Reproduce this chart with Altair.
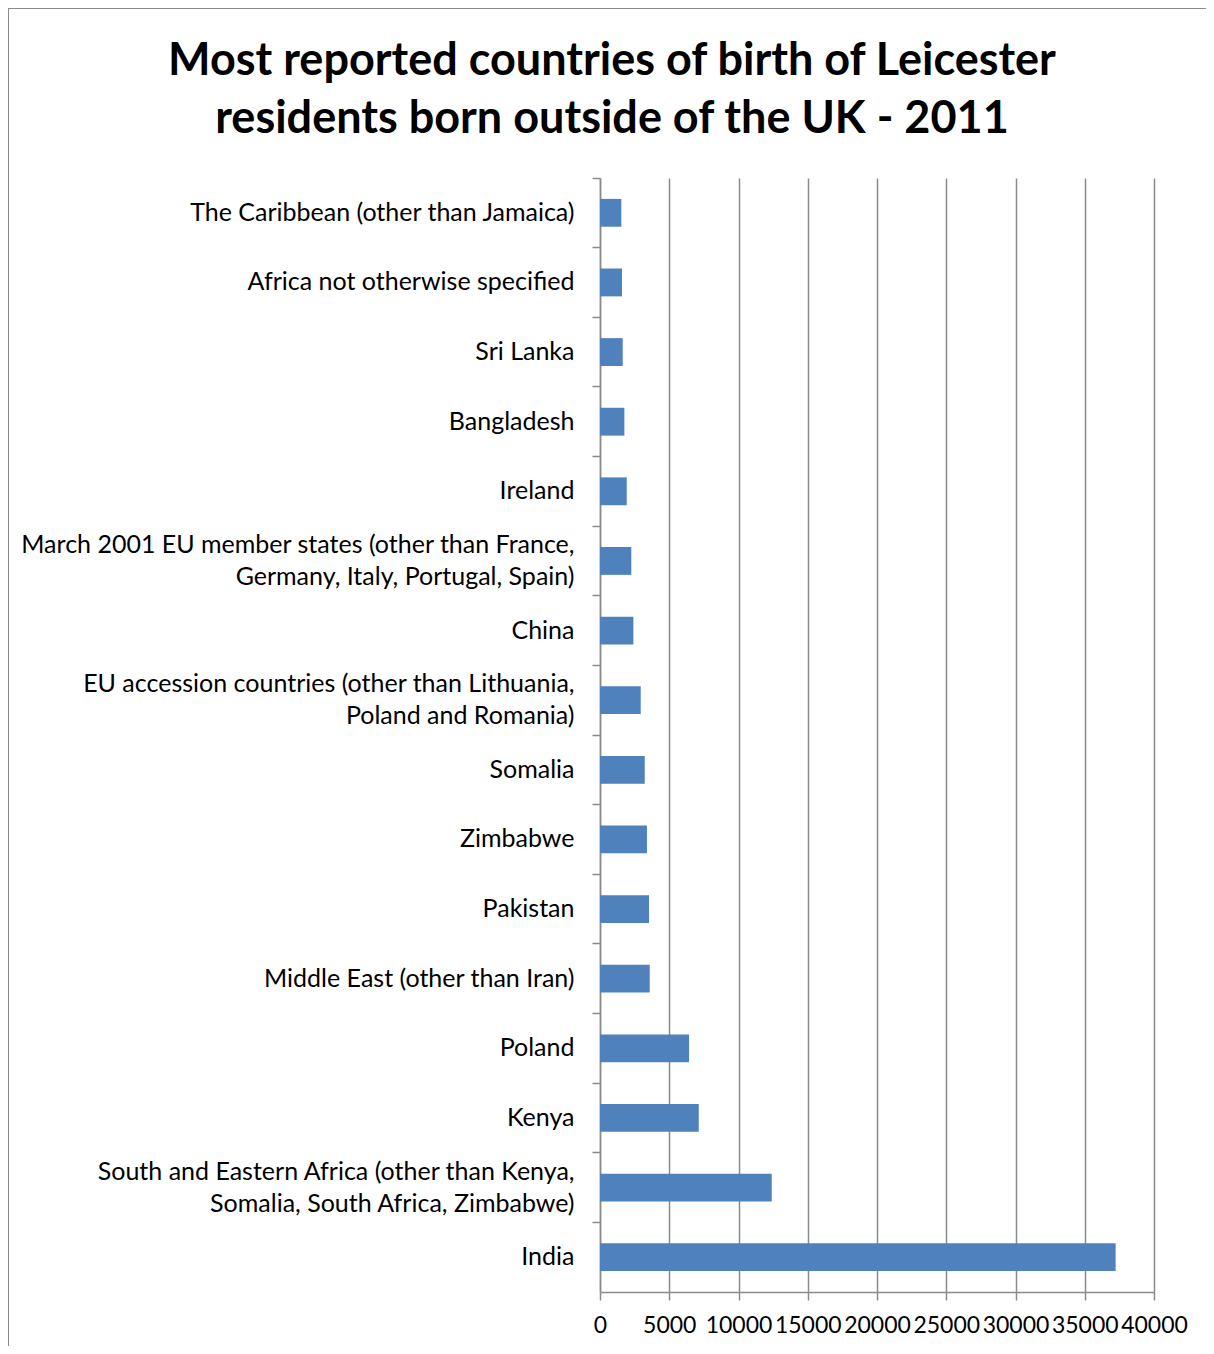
import altair as alt
import pandas as pd

categories = [
    "The Caribbean (other than Jamaica)",
    "Africa not otherwise specified",
    "Sri Lanka",
    "Bangladesh",
    "Ireland",
    "March 2001 EU member states (other than France,\nGermany, Italy, Portugal, Spain)",
    "China",
    "EU accession countries (other than Lithuania,\nPoland and Romania)",
    "Somalia",
    "Zimbabwe",
    "Pakistan",
    "Middle East (other than Iran)",
    "Poland",
    "Kenya",
    "South and Eastern Africa (other than Kenya,\nSomalia, South Africa, Zimbabwe)",
    "India",
]
residents = [1540, 1590, 1640, 1760, 1930, 2260, 2410, 2940, 3230, 3390,
             3540, 3590, 6430, 7130, 12400, 37230]
x_ticks = [0, 5000, 10000, 15000, 20000, 25000, 30000, 35000, 40000]

df = pd.DataFrame({"country": categories, "residents": residents})

FONT = "Lato"
GRAY = "#8a8a8a"

bars = alt.Chart(df).mark_bar(
    color="#4F81BD", height=alt.RelativeBandSize(0.4)
).encode(
    x=alt.X("residents:Q",
            scale=alt.Scale(domain=[0, 40000], nice=False),
            axis=alt.Axis(values=x_ticks, title=None, grid=True, gridColor=GRAY,
                          gridWidth=1.5, domainColor=GRAY, domainWidth=1.5,
                          tickColor=GRAY, tickWidth=1.5, tickSize=8,
                          labelFont=FONT, labelFontSize=23, labelColor="black",
                          labelPadding=14, labelOverlap=False, labelFlush=False,
                          format="d")),
    y=alt.Y("country:N", sort=None,
            scale=alt.Scale(paddingInner=0, paddingOuter=0),
            axis=alt.Axis(title=None, bandPosition=0, domainColor=GRAY,
                          domainWidth=1.5, tickColor=GRAY, tickWidth=1.5,
                          tickSize=8, labelFont=FONT, labelFontSize=25,
                          labelColor="black", labelPadding=18,
                          labelLineHeight=32, labelLimit=700,
                          labelOffset={"condition": {
                              "test": "indexof(datum.value, '\\n') >= 0",
                              "value": -16}, "value": 0},
                          labelExpr="split(datum.label, '\\n')")),
)

border_left = alt.Chart(df).mark_rule(color=GRAY, strokeWidth=2).encode(
    x=alt.value(-592), y=alt.value(-170), y2=alt.value(1200)
)
border_top = alt.Chart(df).mark_rule(color=GRAY, strokeWidth=2).encode(
    x=alt.value(-592), x2=alt.value(660), y=alt.value(-170)
)

chart = alt.layer(bars, border_left, border_top).properties(
    width=554,
    height=1114,
    autosize=alt.AutoSizeParams(type="none"),
    padding={"left": 592, "top": 170, "right": 52, "bottom": 54},
    title=alt.TitleParams(
        ["Most reported countries of birth of Leicester",
         "residents born outside of the UK - 2011"],
        anchor="middle", dx=-265, offset=-135, font=FONT, fontSize=45,
        fontWeight="bold", lineHeight=58, color="black",
    ),
).configure_view(stroke=None)

chart.save("out.html", embed_options={"renderer": "svg", "actions": False})
